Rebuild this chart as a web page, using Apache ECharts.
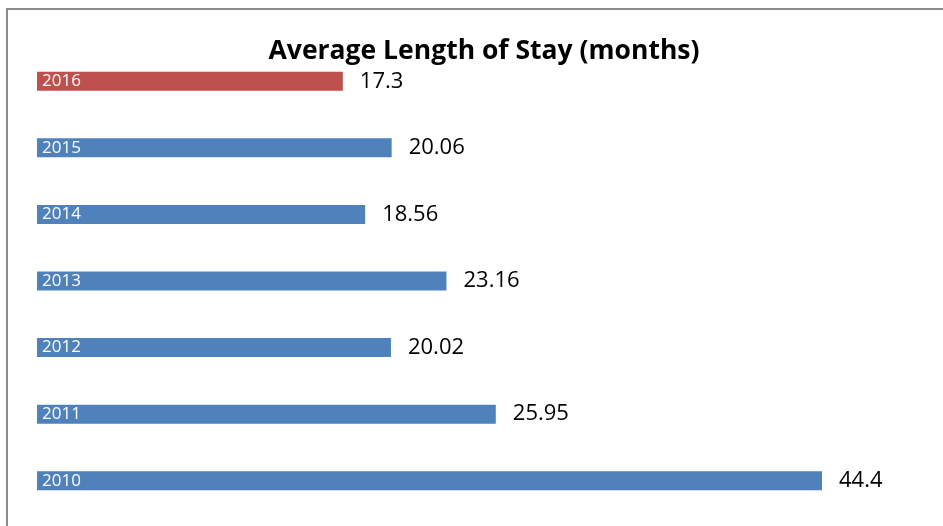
<!DOCTYPE html>
<html lang="en">
<head>
    <meta charset="UTF-8">
    <title>Average Length of Stay</title>
    <script src="https://cdn.jsdelivr.net/npm/echarts@6/dist/echarts.min.js"></script>
    <style>
        html, body {
            margin: 0;
            padding: 0;
            width: 943px;
            height: 526px;
            background: #fff;
            overflow: hidden;
        }
        #main {
            width: 943px;
            height: 526px;
        }
    </style>
</head>
<body>
    <div id="main"></div>
    <script type="text/javascript">
        // data (top to bottom)
        var years = ['2016', '2015', '2014', '2013', '2012', '2011', '2010'];
        var stay = [17.3, 20.06, 18.56, 23.16, 20.02, 25.95, 44.4];
        var highlightYear = '2016';

        var chart = echarts.init(document.getElementById('main'));

        var barData = stay.map(function (v, i) {
            return {
                value: v,
                itemStyle: { color: years[i] === highlightYear ? '#c0504d' : '#4f81bd' }
            };
        });

        var option = {
            animation: false,
            title: {
                text: 'Average Length of Stay (months)',
                left: 479,
                textAlign: 'center',
                top: 33,
                textStyle: {
                    fontFamily: 'Open Sans',
                    fontWeight: 'bold',
                    fontSize: 26.5,
                    color: '#000'
                }
            },
            graphic: [{
                type: 'polyline',
                shape: { points: [[7, 526], [7, 9], [943, 9]] },
                style: { stroke: '#8c8c8c', lineWidth: 2, fill: null },
                silent: true
            }],
            grid: {
                left: 37,
                right: 943 - 37 - 17.68 * 50,
                top: 48,
                bottom: 526 - 514
            },
            xAxis: {
                type: 'value',
                min: 0,
                max: 50,
                show: false
            },
            yAxis: {
                type: 'category',
                data: years,
                inverse: true,
                show: false
            },
            series: [{
                type: 'bar',
                data: barData,
                barWidth: 19,
                label: {
                    show: true,
                    position: 'right',
                    distance: 17,
                    fontFamily: 'Open Sans',
                    fontSize: 22,
                    color: '#000'
                }
            }, {
                // category names drawn inside the bars
                type: 'bar',
                data: stay,
                barWidth: 19,
                barGap: '-100%',
                itemStyle: { color: 'rgba(0,0,0,0)' },
                label: {
                    show: true,
                    position: 'insideLeft',
                    distance: 5,
                    fontFamily: 'Open Sans',
                    fontSize: 17,
                    color: '#fff',
                    formatter: function (p) { return years[p.dataIndex]; }
                },
                silent: true
            }]
        };

        chart.setOption(option);
    </script>
</body>
</html>
